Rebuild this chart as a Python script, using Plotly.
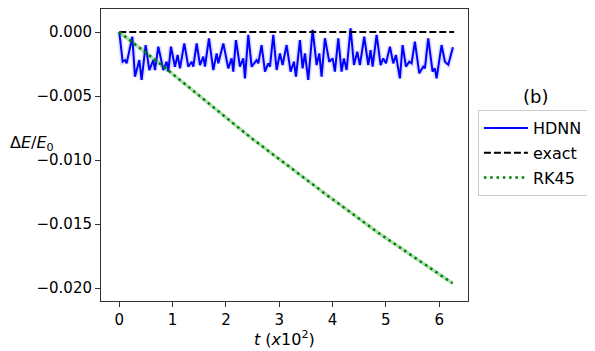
import plotly.graph_objects as go

# HDNN energy error (t in units of 10^2, dE/E0 in units of 1e-3)
hdnn_t = [0.0, 0.063, 0.107, 0.138, 0.244, 0.294, 0.376, 0.419, 0.494, 0.563,
          0.638, 0.669, 0.732, 0.826, 0.888, 0.919, 0.969, 1.044, 1.094, 1.138,
          1.219, 1.294, 1.357, 1.388, 1.451, 1.513, 1.576, 1.607, 1.682, 1.763,
          1.826, 1.857, 1.951, 2.044, 2.107, 2.138, 2.188, 2.263, 2.326, 2.357,
          2.419, 2.482, 2.576, 2.607, 2.669, 2.732, 2.794, 2.826, 2.888, 2.951,
          3.013, 3.063, 3.138, 3.213, 3.276, 3.313, 3.388, 3.438, 3.482, 3.544,
          3.626, 3.701, 3.751, 3.794, 3.857, 3.938, 4.001, 4.044, 4.107, 4.169,
          4.213, 4.263, 4.338, 4.401, 4.463, 4.513, 4.594, 4.669, 4.713, 4.751,
          4.826, 4.901, 4.951, 5.001, 5.076, 5.138, 5.188, 5.263, 5.313, 5.376,
          5.438, 5.482, 5.544, 5.626, 5.701, 5.732, 5.794, 5.876, 5.919, 5.951,
          6.044, 6.107, 6.170, 6.257]
hdnn_e = [0.0, -2.32, -2.19, -2.45, -0.37, -3.49, -2.19, -3.75, -1.02, -2.97,
          -2.19, -2.97, -1.15, -2.97, -2.32, -3.10, -1.15, -2.71, -1.80, -2.84,
          -0.89, -2.71, -2.32, -2.71, -0.89, -2.58, -1.93, -2.71, -0.49, -2.97,
          -1.67, -2.45, -0.89, -2.84, -2.06, -3.10, -0.63, -2.71, -2.06, -3.62,
          -0.23, -2.71, -2.19, -2.45, -1.02, -3.10, -2.45, -2.71, -0.23, -2.97,
          -1.67, -2.58, -1.02, -3.10, -2.32, -3.49, -0.63, -2.84, -1.67, -3.75,
          0.16, -2.58, -1.67, -3.49, -0.49, -2.32, -2.06, -3.10, -0.49, -3.10,
          -2.06, -2.97, 0.29, -2.58, -1.54, -2.58, -0.37, -2.58, -1.41, -2.71,
          -0.23, -2.58, -2.06, -2.45, -1.15, -2.45, -1.80, -3.62, -1.02, -2.71,
          -2.32, -2.45, -0.76, -3.23, -2.71, -2.84, -0.49, -3.10, -2.84, -3.62,
          -1.02, -2.32, -2.55, -1.20]

exact_t = [0.0, 6.28]
exact_e = [0.0, 0.0]

rk45_t = [0.0, 0.80, 2.48, 3.89, 4.89, 6.25]
rk45_e = [0.0, -2.60, -8.30, -12.73, -15.78, -19.63]

ytick_vals = [0.0, -0.005, -0.010, -0.015, -0.020]
ytick_text = ["0.000", "\u22120.005", "\u22120.010", "\u22120.015", "\u22120.020"]
xtick_vals = [0, 1, 2, 3, 4, 5, 6]

FONT = "DejaVu Sans"

fig = go.Figure()

# soft halo under the HDNN curve
fig.add_trace(go.Scatter(x=hdnn_t, y=[v * 1e-3 for v in hdnn_e], mode="lines",
                         line=dict(color="rgba(60,60,255,0.18)", width=5),
                         showlegend=False, hoverinfo="skip"))
fig.add_trace(go.Scatter(x=hdnn_t, y=[v * 1e-3 for v in hdnn_e], mode="lines",
                         name="HDNN", legendgroup="a",
                         line=dict(color="#0000ff", width=2)))
fig.add_trace(go.Scatter(x=exact_t, y=exact_e, mode="lines", name="exact",
                         legendgroup="b",
                         line=dict(color="black", width=2, dash="7px,3px")))
fig.add_trace(go.Scatter(x=rk45_t, y=[v * 1e-3 for v in rk45_e], mode="lines",
                         line=dict(color="rgba(0,150,0,0.3)", width=3.5),
                         showlegend=False, hoverinfo="skip"))
fig.add_trace(go.Scatter(x=rk45_t, y=[v * 1e-3 for v in rk45_e], mode="lines",
                         name="RK45", legendgroup="c",
                         line=dict(color="#008000", width=2.5, dash="2.5px,3.8px")))

axis_common = dict(showline=True, mirror=True, linecolor="#333", linewidth=1,
                   ticks="outside", ticklen=5, tickwidth=1, tickcolor="#333",
                   showgrid=False, zeroline=False,
                   tickfont=dict(family=FONT, size=15, color="black"))

fig.update_xaxes(range=[-0.343, 6.54], tickvals=xtick_vals, **axis_common)
fig.update_yaxes(range=[-0.021016, 0.001797], tickvals=ytick_vals, ticktext=ytick_text,
                 **axis_common)

# page body adds an 8px offset, so the figure is 8px smaller than the window
fig.update_layout(
    width=587, height=343,
    margin=dict(l=93, r=127, t=1, b=50),
    paper_bgcolor="white", plot_bgcolor="white",
    font=dict(family=FONT, size=15, color="black"),
    legend=dict(x=1.027, y=0.654, xanchor="left", yanchor="top",
                bordercolor="#cccccc", borderwidth=1, bgcolor="white",
                tracegroupgap=1, itemwidth=44,
                font=dict(family=FONT, size=16)),
    annotations=[
        dict(text="\u0394<i>E</i>/<i>E</i><sub>0</sub>", xref="paper", yref="paper",
             x=-0.122, y=0.541, xanchor="right", yanchor="middle", showarrow=False,
             font=dict(family=FONT, size=16)),
        dict(text="<i>t</i> (<i>x</i>10<sup>2</sup>)", xref="paper", yref="paper",
             x=0.5, y=-0.127, xanchor="center", yanchor="middle", showarrow=False,
             font=dict(family=FONT, size=16)),
        dict(text="(b)", xref="paper", yref="paper", x=1.183, y=0.699,
             xanchor="center", yanchor="middle", showarrow=False,
             font=dict(family=FONT, size=18)),
    ],
)

fig.write_html("out.html")
